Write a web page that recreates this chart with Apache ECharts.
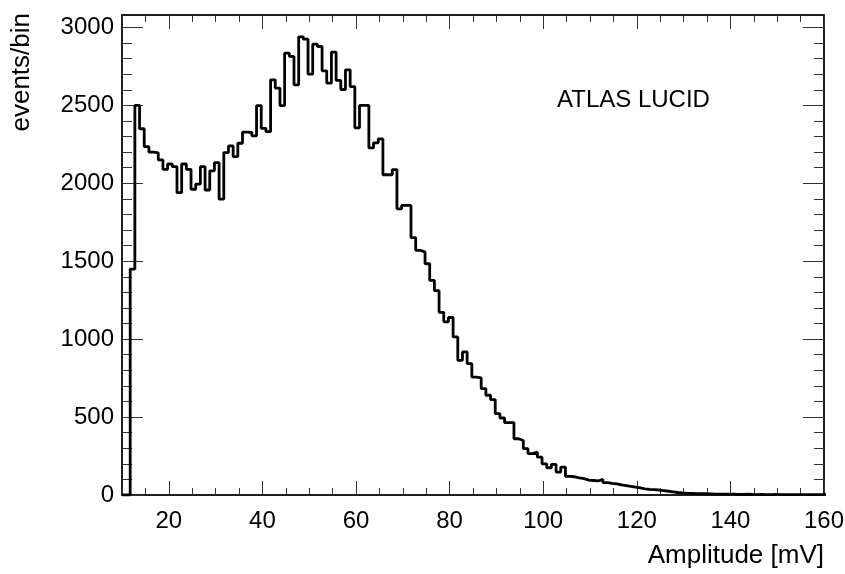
<!DOCTYPE html>
<html>
<head>
<meta charset="utf-8">
<script src="https://cdn.jsdelivr.net/npm/echarts@6/dist/echarts.min.js"></script>
<style>
html,body{margin:0;padding:0;background:#fff;}
#chart{width:845px;height:574px;}
</style>
</head>
<body>
<div id="chart"></div>
<script>
// ---- data ----
const binStart = 11.75;   // left edge of first filled bin (mV)
const binWidth = 1;       // mV
const counts = [
  1450, 2500, 2350, 2235, 2200, 2195, 2150, 2090, 2124, 2107,
  1940, 2124, 2090, 1962, 1995, 2107, 1957, 2080, 2133, 1898,
  2197, 2240, 2171, 2257, 2328, 2326, 2305, 2499, 2353, 2332,
  2664, 2611, 2499, 2835, 2814, 2632, 2940, 2925, 2700, 2893,
  2878, 2722, 2643, 2842, 2660, 2602, 2728, 2621, 2356, 2500,
  2500, 2227, 2260, 2285, 2055, 2055, 2088, 1836, 1858, 1858,
  1652, 1570, 1560, 1484, 1377, 1312, 1172, 1111, 1139, 1014,
  864, 918, 843, 757, 751, 683, 640, 612, 522, 494,
  464, 464, 361, 350, 297, 265, 275, 243, 200, 175,
  196, 147, 179, 120, 117, 110, 105, 96, 93, 90,
  100, 80, 75, 72, 65, 60, 55, 50, 45, 40,
  36, 34, 32, 28, 24, 20, 16, 13, 11,
  10, 9, 8, 8, 7, 6, 6, 5, 5, 5,
  4, 4, 5, 4, 3, 4, 3, 3, 4, 3,
  2, 3, 3, 2, 3, 2, 2, 3, 2, 4
];
const xMajorTicks = [20, 40, 60, 80, 100, 120, 140, 160];
const xMinorTicks = [10, 15, 20, 25, 30, 35, 40, 45, 50, 55, 60, 65, 70, 75, 80, 85, 90, 95, 100,
  105, 110, 115, 120, 125, 130, 135, 140, 145, 150, 155, 160];
const yMajorTicks = [0, 500, 1000, 1500, 2000, 2500, 3000];
const yMinorTicks = [0, 100, 200, 300, 400, 500, 600, 700, 800, 900, 1000, 1100, 1200, 1300, 1400,
  1500, 1600, 1700, 1800, 1900, 2000, 2100, 2200, 2300, 2400, 2500, 2600, 2700, 2800, 2900, 3000];
const xMin = 10, xMax = 160, yMin = 0, yMax = 3080;
const xTitle = 'Amplitude [mV]';
const yTitle = 'events/bin';
const label = 'ATLAS LUCID';

// histogram outline points (left edges, step drawn by the library)
const histData = [[xMin, 0]];
counts.forEach((c, i) => histData.push([binStart + i * binWidth, c]));
histData.push([binStart + counts.length * binWidth, counts[counts.length - 1]]);

const FONT = '"Liberation Sans", Arial, Helvetica, sans-serif';
const tickStyle = { color: '#333', width: 1 };
const plain = v => String(v);

function xAx(pos, ticks, len, showLabels) {
  return {
    type: 'value', position: pos, min: xMin, max: xMax, offset: 0,
    axisLine: { show: true, onZero: false, lineStyle: { color: '#111', width: 1.5 } },
    axisTick: { show: true, inside: true, length: len, customValues: ticks, lineStyle: tickStyle },
    axisLabel: { show: showLabels, customValues: xMajorTicks, margin: 14, formatter: plain,
      fontFamily: FONT, fontSize: 24, color: '#000' },
    splitLine: { show: false }
  };
}
function yAx(pos, ticks, len, showLabels) {
  return {
    type: 'value', position: pos, min: yMin, max: yMax, offset: 0,
    axisLine: { show: true, onZero: false, lineStyle: { color: '#111', width: 1.5 } },
    axisTick: { show: true, inside: true, length: len, customValues: ticks, lineStyle: tickStyle },
    axisLabel: { show: showLabels, customValues: yMajorTicks, margin: 8, formatter: plain,
      fontFamily: FONT, fontSize: 24, color: '#000' },
    splitLine: { show: false }
  };
}

const chart = echarts.init(document.getElementById('chart'), null, { renderer: 'canvas' });
chart.setOption({
  animation: false,
  backgroundColor: '#fff',
  grid: { left: 122, top: 15, width: 702, height: 480, containLabel: false, outerBoundsMode: 'none',
    show: false },
  xAxis: [
    xAx('bottom', xMajorTicks, 14, true),
    xAx('bottom', xMinorTicks, 7, false),
    xAx('top', xMajorTicks, 14, false),
    xAx('top', xMinorTicks, 7, false)
  ],
  yAxis: [
    yAx('left', yMajorTicks, 21, true),
    yAx('left', yMinorTicks, 10, false),
    yAx('right', yMajorTicks, 21, false),
    yAx('right', yMinorTicks, 10, false)
  ],
  title: [{
    text: xTitle, right: 21, top: 543, padding: 0,
    textStyle: { fontFamily: FONT, fontSize: 26, fontWeight: 'normal', color: '#000' }
  }],
  graphic: [
    { type: 'text', x: 22, y: 13, rotation: Math.PI / 2,
      style: { text: yTitle, fontFamily: FONT, fontSize: 26, fill: '#000', align: 'right', verticalAlign: 'middle' } },
    { type: 'text', x: 557, y: 100,
      style: { text: label, fontFamily: FONT, fontSize: 24, fill: '#000', align: 'left', verticalAlign: 'middle' } }
  ],
  series: [{
    type: 'line', xAxisIndex: 0, yAxisIndex: 0,
    step: 'end', data: histData, showSymbol: false, symbol: 'none',
    clip: true,
    lineStyle: { color: '#000', width: 2.8 },
    silent: true
  }]
});
</script>
</body>
</html>
